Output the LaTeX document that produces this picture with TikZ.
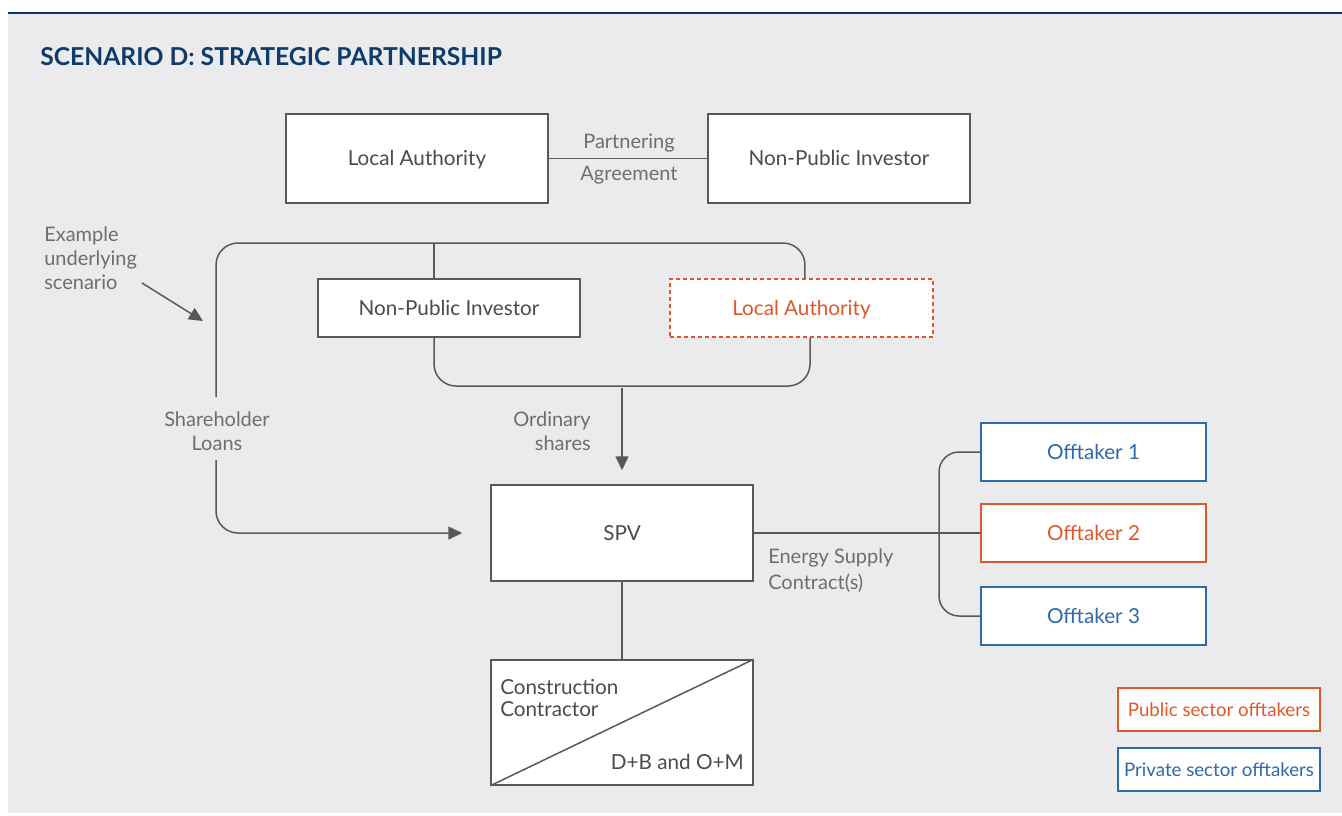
\documentclass[tikz,border=0pt]{standalone}
\usepackage{fontspec}
\setmainfont{Lato}
\usetikzlibrary{arrows.meta}
\newlength\px
\setlength\px{0.75pt}
\definecolor{bgc}{HTML}{EBEBED}
\definecolor{navy}{HTML}{0D3B6B}
\definecolor{lnc}{HTML}{58595B}
\definecolor{txd}{HTML}{4A4B4D}
\definecolor{txl}{HTML}{6D6E71}
\definecolor{orng}{HTML}{E0582A}
\definecolor{blu}{HTML}{2E69A8}
\tikzset{
  boxa/.style={draw=lnc, line width=1.5\px, fill=white, text=txd, font=\fontsize{15.5}{18}\selectfont, inner sep=0pt, text height=11.2pt, text depth=0pt},
  legbox/.style={boxa, font=\fontsize{14}{16}\selectfont, text height=10.1pt, minimum width=202\px, minimum height=43\px},
  lbl/.style={text=txl, font=\fontsize{15}{18}\selectfont, inner sep=0pt},
  conn/.style={draw=lnc, line width=1.5\px},
  arr/.style={conn, -{Triangle[length=10.5pt,width=9.75pt]}},
}
\begin{document}
\begin{tikzpicture}[x=0.75pt,y=-0.75pt]
\useasboundingbox (0,0) rectangle (1342,815);
\fill[bgc] (8,13) rectangle (1342,813);
\draw[navy, line width=2.2\px] (8,13) -- (1342,13);
\node[anchor=west, text=navy, font=\fontsize{18.5}{22}\selectfont\bfseries, inner sep=0pt] (title) at (40,57) {SCENARIO D: STRATEGIC PARTNERSHIP};

% boxes
\node[boxa, minimum width=262\px, minimum height=89\px] (la1) at (417,158.5) {Local Authority};
\node[boxa, minimum width=262\px, minimum height=89\px] (npi1) at (839,158.5) {Non-Public Investor};
\node[boxa, minimum width=262\px, minimum height=58\px] (npi2) at (449,308) {Non-Public Investor};
\node[boxa, draw=orng, dashed, dash pattern=on 3pt off 2.25pt, text=orng, minimum width=263\px, minimum height=58\px] (la2) at (801.5,308) {Local Authority};
\node[boxa, minimum width=262\px, minimum height=96\px] (spv) at (622,533) {SPV};
\node[boxa, minimum width=262\px, minimum height=125\px] (cc) at (622,722.5) {};
\node[boxa, draw=blu, text=blu, minimum width=225\px, minimum height=58\px] (o1) at (1093.5,452) {Offtaker 1};
\node[boxa, draw=orng, text=orng, minimum width=225\px, minimum height=58\px] (o2) at (1093.5,533) {Offtaker 2};
\node[boxa, draw=blu, text=blu, minimum width=225\px, minimum height=58\px] (o3) at (1093.5,616) {Offtaker 3};
\node[legbox, draw=orng, text=orng] (leg1) at (1219,709.5) {Public sector offtakers};
\node[legbox, draw=blu, text=blu] (leg2) at (1219,769.5) {Private sector offtakers};

% construction contractor content
\draw[conn] (cc.south west) -- (cc.north east);
\node[lbl, text=txd, anchor=north west, align=left, font=\fontsize{15.5}{16.5}\selectfont] (cct) at (500,679) {Construction\\Contractor};
\node[lbl, text=txd, anchor=east, font=\fontsize{15.5}{18}\selectfont] (dbom) at (744,762) {D+B and O+M};

% labels
\node[lbl] (pa1) at (629,143) {Partnering};
\node[lbl] (pa2) at (629,175) {Agreement};
\node[lbl, anchor=west, align=left] (ex) at (44,258) {Example\\underlying\\scenario};
\node[lbl, align=center] (sl) at (217,431) {Shareholder\\Loans};
\node[lbl, anchor=east, align=right] (os) at (591,431) {Ordinary\\shares};
\node[lbl, anchor=west, align=left, font=\fontsize{15}{19.5}\selectfont] (esc) at (768,571) {Energy Supply\\Contract(s)};

% coordinates
\coordinate (slt) at (216,397);
\coordinate (slb) at (216,460);
\coordinate (ex1) at (142,283);
\coordinate (ex2) at (203,321);
\coordinate (osa) at (622,388);

% connectors
\draw[conn] (la1.east) -- (npi1.west);
\draw[conn, rounded corners=16.5pt] (slt) -- (216,243) -- (805,243) -- ([xshift=2.6pt]la2.north);
\draw[conn] (434,243) -- ([xshift=-11.25pt]npi2.north);
\draw[conn, rounded corners=16.5pt] ([xshift=-11.25pt]npi2.south) -- (434,386) -- (810,386) -- ([xshift=6.4pt]la2.south);
\draw[arr] (osa) -- ([yshift=10.5pt]spv.north);
\draw[arr, rounded corners=16.5pt] (slb) |- ([xshift=-21pt]spv.west);
\draw[arr] (ex1) -- (ex2);
\draw[conn] (spv.east) -- (o2.west);
\draw[conn, rounded corners=15pt] (o1.west) -- (939,452) -- (939,616) -- (o3.west);
\draw[conn] (spv.south) -- (cc.north);
\end{tikzpicture}
\end{document}
